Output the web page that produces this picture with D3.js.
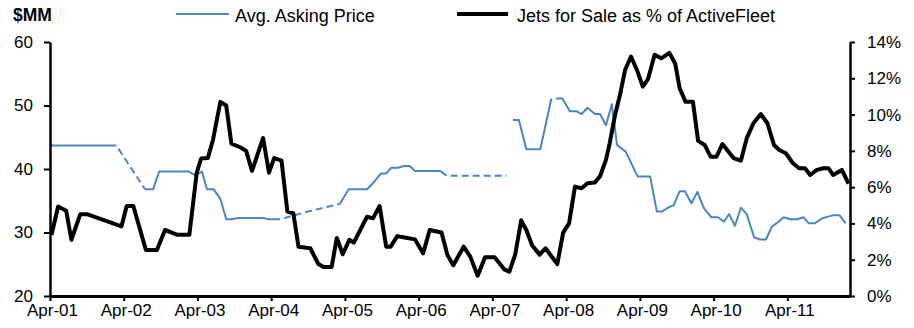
<!DOCTYPE html>
<html>
<head>
<meta charset="utf-8">
<script src="https://cdn.jsdelivr.net/npm/d3@7"></script>
<style>
  html, body { margin: 0; padding: 0; background: #fff; }
  svg { display: block; font-family: "Liberation Sans", Arial, sans-serif; }
  .axis text { fill: #000; }
</style>
</head>
<body>
<svg id="chart" width="914" height="328"></svg>
<script>
// Jets for sale as % of active fleet (right axis), by decimal year
const fleetYears = [2001.27, 2001.36, 2001.47, 2001.54, 2001.66, 2001.76, 2002.22, 2002.29, 2002.38, 2002.55,
  2002.70, 2002.81, 2002.97, 2003.14, 2003.24, 2003.30, 2003.39, 2003.46, 2003.56, 2003.64,
  2003.71, 2003.83, 2003.91, 2003.99, 2004.14, 2004.22, 2004.29, 2004.39, 2004.47, 2004.55,
  2004.62, 2004.78, 2004.89, 2004.96, 2005.07, 2005.14, 2005.22, 2005.31, 2005.37, 2005.55,
  2005.63, 2005.72, 2005.81, 2005.87, 2005.96, 2006.04, 2006.20, 2006.31, 2006.40, 2006.56,
  2006.64, 2006.72, 2006.86, 2006.95, 2007.05, 2007.15, 2007.28, 2007.41, 2007.48, 2007.56,
  2007.64, 2007.71, 2007.79, 2007.89, 2007.97, 2008.13, 2008.21, 2008.29, 2008.37, 2008.46,
  2008.54, 2008.64, 2008.71, 2008.79, 2008.84, 2008.91, 2008.99, 2009.05, 2009.13, 2009.21,
  2009.29, 2009.36, 2009.45, 2009.54, 2009.65, 2009.73, 2009.79, 2009.87, 2009.97, 2010.04,
  2010.13, 2010.21, 2010.29, 2010.37, 2010.45, 2010.52, 2010.62, 2010.70, 2010.79, 2010.89,
  2010.98, 2011.07, 2011.14, 2011.23, 2011.33, 2011.41, 2011.49, 2011.56, 2011.65, 2011.74,
  2011.81, 2011.87, 2011.99, 2012.08];
const fleetPct = [3.36, 4.93, 4.7, 3.1, 4.5, 4.5, 3.84, 4.96, 4.96, 2.54,
  2.54, 3.64, 3.38, 3.38, 6.8, 7.58, 7.6, 8.6, 10.7, 10.5,
  8.4, 8.2, 8.0, 6.9, 8.7, 6.8, 7.6, 7.46, 4.65, 4.56,
  2.72, 2.63, 1.76, 1.6, 1.6, 3.2, 2.3, 3.1, 2.94, 4.37,
  4.28, 4.96, 2.72, 2.72, 3.3, 3.24, 3.12, 2.35, 3.64, 3.5,
  2.26, 1.7, 2.72, 2.17, 1.12, 2.13, 2.13, 1.47, 1.34, 2.3,
  4.17, 3.64, 2.78, 2.28, 2.63, 1.76, 3.49, 4.0, 6.03, 5.94,
  6.21, 6.25, 6.6, 7.5, 8.4, 9.9, 11.26, 12.46, 13.2, 12.46,
  11.54, 11.95, 13.3, 13.1, 13.4, 12.8, 11.45, 10.7, 10.7, 8.55,
  8.32, 7.68, 7.68, 8.38, 7.96, 7.6, 7.46, 8.7, 9.52, 10.03,
  9.52, 8.32, 8.05, 7.87, 7.3, 7.04, 7.04, 6.67, 6.95, 7.04,
  7.04, 6.67, 6.95, 6.2];

// Average asking price ($MM, left axis); null = no data, estimated = bridged/extended value
const priceYears = [2001.26, 2002.15, 2002.38, 2002.54, 2002.65, 2002.73, 2003.13, 2003.22, 2003.31, 2003.38,
  2003.47, 2003.56, 2003.64, 2003.71, 2003.80, 2004.14, 2004.21, 2004.37, 2004.78, 2005.18,
  2005.30, 2005.55, 2005.63, 2005.74, 2005.81, 2005.88, 2005.97, 2006.05, 2006.13, 2006.20,
  2006.54, 2006.63, 2007.04, 2007.44, 2007.49, 2007.53, 2007.61, 2007.71, 2007.90, 2008.05,
  2008.08, 2008.11, 2008.20, 2008.30, 2008.39, 2008.46, 2008.54, 2008.64, 2008.71, 2008.79,
  2008.87, 2008.94, 2009.06, 2009.22, 2009.39, 2009.48, 2009.55, 2009.64, 2009.71, 2009.79,
  2009.86, 2009.95, 2010.03, 2010.12, 2010.22, 2010.31, 2010.39, 2010.46, 2010.54, 2010.62,
  2010.70, 2010.80, 2010.88, 2010.96, 2011.04, 2011.13, 2011.20, 2011.29, 2011.38, 2011.47,
  2011.54, 2011.62, 2011.72, 2011.80, 2011.87, 2011.96, 2012.04];
const priceValues = [43.7, 43.7, 39.6, 36.8, 36.8, 39.6, 39.6, 39.05, 39.6, 36.8,
  36.8, 35.3, 32.1, 32.1, 32.3, 32.3, 32.1, 32.1, 33.4, 34.5,
  36.8, 36.8, 37.75, 39.3, 39.3, 40.2, 40.2, 40.47, 40.47, 39.7,
  39.7, 38.95, 38.95, 38.95, null, 47.7, 47.7, 43.1, 43.1, 51.1,
  null, 51.1, 51.1, 49.1, 49.1, 48.66, 49.65, 48.66, 48.66, 46.9,
  50.2, 43.8, 42.7, 38.8, 38.8, 33.3, 33.3, 33.97, 34.3, 36.5,
  36.5, 34.6, 36.4, 33.8, 32.4, 32.4, 31.7, 32.9, 31.07, 33.9,
  32.9, 29.25, 28.9, 28.9, 30.9, 31.7, 32.4, 32.08, 32.08, 32.4,
  31.45, 31.45, 32.2, 32.5, 32.7, 32.7, 31.45];
const priceEstimated = [0, 0, 1, 0, 0, 0, 0, 0, 0, 0,
  0, 0, 0, 0, 0, 0, 0, 0, 1, 0,
  0, 0, 0, 0, 0, 0, 0, 0, 0, 0,
  0, 0, 1, 1, 0, 0, 0, 0, 0, 0,
  0, 0, 0, 0, 0, 0, 0, 0, 0, 0,
  0, 0, 0, 0, 0, 0, 0, 0, 0, 0,
  0, 0, 0, 0, 0, 0, 0, 0, 0, 0,
  0, 0, 0, 0, 0, 0, 0, 0, 0, 0,
  0, 0, 0, 0, 0, 0, 0];

const xTickYears = [2001.25, 2002.25, 2003.25, 2004.25, 2005.25, 2006.25, 2007.25, 2008.25, 2009.25, 2010.25, 2011.25];
const xTickLabels = ["Apr-01", "Apr-02", "Apr-03", "Apr-04", "Apr-05", "Apr-06", "Apr-07", "Apr-08", "Apr-09", "Apr-10", "Apr-11"];
const leftTicks = [20, 30, 40, 50, 60];
const rightTicks = [0, 2, 4, 6, 8, 10, 12, 14];
const legendLabels = ["Avg. Asking Price", "Jets for Sale as % of ActiveFleet"];

const BLUE = "#4a86c5";
const svg = d3.select("#chart");

const plotLeft = 50, plotRight = 850, plotTop = 42, plotBottom = 296;
const x = d3.scaleLinear().domain([2001.25, 2012.1]).range([plotLeft, plotRight]);
const yL = d3.scaleLinear().domain([20, 60]).range([plotBottom, plotTop]);
const yR = d3.scaleLinear().domain([0, 14]).range([plotBottom, plotTop]);

// Asking price: split into solid (reported) and dashed (estimated) runs
const pts = priceYears.map((t, i) => ({ t, v: priceValues[i], e: priceEstimated[i] }));
const runs = [];
for (let i = 0; i < pts.length - 1; i++) {
  const a = pts[i], b = pts[i + 1];
  if (a.v == null || b.v == null) continue;
  const dashed = !!(a.e || b.e);
  const last = runs[runs.length - 1];
  if (last && last.dashed === dashed && last.end === i) {
    last.pts.push(b); last.end = i + 1;
  } else {
    runs.push({ dashed, pts: [a, b], end: i + 1 });
  }
}
const priceLine = d3.line().x(d => x(d.t)).y(d => yL(d.v));
svg.append("g").selectAll("path").data(runs).join("path")
  .attr("d", d => priceLine(d.pts))
  .attr("fill", "none")
  .attr("stroke", BLUE)
  .attr("stroke-width", 2)
  .attr("stroke-linejoin", "round")
  .attr("stroke-dasharray", d => d.dashed ? "7,4" : null)
  .attr("stroke-dashoffset", d => d.dashed ? 7 : null);

// Fleet share line
const fleet = fleetYears.map((t, i) => ({ t, v: fleetPct[i] }));
svg.append("path")
  .datum(fleet)
  .attr("d", d3.line().x(d => x(d.t)).y(d => yR(d.v)))
  .attr("fill", "none")
  .attr("stroke", "#000")
  .attr("stroke-width", 4)
  .attr("stroke-linejoin", "round");

// Axes
const gL = svg.append("g").attr("class", "axis").attr("transform", `translate(${plotLeft},0)`)
  .call(d3.axisLeft(yL).tickValues(leftTicks).tickSize(6).tickSizeOuter(0).tickPadding(11));
const gR = svg.append("g").attr("class", "axis").attr("transform", `translate(${plotRight},0)`)
  .call(d3.axisRight(yR).tickValues(rightTicks).tickSize(5).tickSizeOuter(0).tickPadding(12)
    .tickFormat(d => d + "%"));
const gB = svg.append("g").attr("class", "axis").attr("transform", `translate(0,${plotBottom})`)
  .call(d3.axisBottom(x).tickValues(xTickYears).tickSize(5).tickSizeOuter(0).tickPadding(3)
    .tickFormat((d, i) => xTickLabels[i]));

[gL, gR].forEach(g => {
  g.select(".domain").attr("stroke", "#000").attr("stroke-width", 2.5);
  g.selectAll(".tick line").attr("stroke", "#000").attr("stroke-width", 2);
  g.selectAll("text").attr("font-size", 17).attr("font-family", "Liberation Sans, Arial, sans-serif");
});
gB.select(".domain").attr("stroke", "#000").attr("stroke-width", 3);
gB.selectAll(".tick line").attr("stroke", "#000").attr("stroke-width", 2);
gB.selectAll("text").attr("font-size", 17).attr("font-family", "Liberation Sans, Arial, sans-serif")
  .attr("dx", 2);

// Axis unit
svg.append("text").attr("x", 13).attr("y", 21)
  .attr("font-size", 17.5).attr("font-weight", "bold").text("$MM");

// Legend
const legend = svg.append("g");
const legendItems = [
  { x1: 176, x2: 229, tx: 235, color: BLUE, w: 2 },
  { x1: 457, x2: 508, tx: 517, color: "#000", w: 4 }
];
legendItems.forEach((d, i) => {
  legend.append("line").attr("x1", d.x1).attr("x2", d.x2).attr("y1", 14).attr("y2", 14)
    .attr("stroke", d.color).attr("stroke-width", d.w);
  legend.append("text").attr("x", d.tx).attr("y", 22).attr("font-size", 18).text(legendLabels[i]);
});
</script>
</body>
</html>
